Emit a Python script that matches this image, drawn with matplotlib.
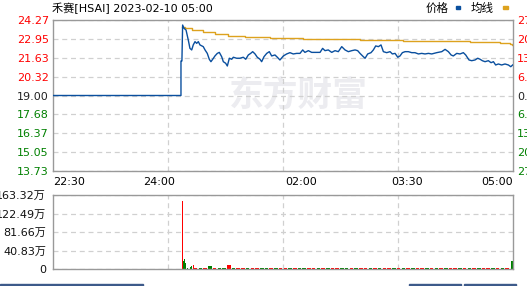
import matplotlib
matplotlib.use('Agg')
import matplotlib.pyplot as plt
from matplotlib.patches import Rectangle

plt.rcParams['font.family'] = ['DejaVu Sans', 'Noto Sans CJK SC']

title = '禾赛[HSAI] 2023-02-10 05:00'
prev_close = 19.00

# minutes since 22:30
price_t = [0, 108.5, 108.5, 109.3, 109.9, 111.1, 112.8, 114.7, 116.1, 117.6,
           118.9, 120.4, 121.8, 123.2, 124.6, 127.4, 128.9, 130.8, 132.5, 133.9,
           135.4, 137.3, 139.3, 141, 143, 144.4, 146.4, 147.8, 149.5, 151.5,
           152.9, 155.7, 158.5, 161.3, 163.4, 165.6, 167.6, 169.3, 171.3, 173.2,
           175.5, 176.9, 178.9, 181.2, 183.4, 185.4, 188.2, 190.2, 192.4, 195.3,
           198.1, 200.9, 203.7, 206.6, 209.4, 211.7, 213.6, 216.5, 219.3, 223.6,
           226.4, 228.6, 230.6, 233.4, 236.3, 239.1, 241.9, 244.8, 247.6, 250.4,
           253.3, 256.1, 258.3, 260.3, 263.1, 264.6, 266.8, 269.6, 271.6, 273.6,
           275.9, 278.1, 280.1, 282.9, 285.8, 287.7, 290, 292.3, 294.2, 296.2,
           298.5, 301.3, 304.1, 306.9, 309.8, 312.6, 315.4, 318.3, 321.1, 325.3,
           329.6, 332.4, 335.2, 337.5, 339.4, 342.3, 345.1, 347.9, 349.9, 352.7,
           355, 357.8, 360.1, 362.1, 364, 366.3, 369.1, 371.4, 373.4, 375.3,
           377.6, 380.4, 383.2, 386.1, 388.1, 389.7]
price = [19.00, 19.00, 21.41, 21.41, 23.92, 23.69, 23.57, 22.87, 22.29, 22.18,
         22.53, 22.76, 22.64, 22.76, 22.53, 22.41, 22.18, 21.94, 21.53, 21.36,
         21.53, 21.76, 21.94, 22.01, 21.71, 21.36, 21.25, 21.06, 21.60, 21.53,
         21.67, 21.60, 21.60, 21.67, 21.53, 21.83, 21.94, 22.06, 21.90, 21.67,
         21.53, 21.36, 21.71, 21.94, 22.06, 21.76, 21.83, 21.67, 21.48, 21.76,
         21.90, 21.99, 21.90, 21.94, 21.94, 22.18, 22.01, 22.13, 22.01, 22.01,
         22.01, 22.29, 22.13, 22.18, 22.01, 22.13, 22.06, 22.41, 22.18, 22.06,
         22.13, 22.18, 22.13, 21.94, 21.71, 21.60, 21.90, 21.99, 22.18, 22.46,
         22.41, 22.53, 22.06, 21.99, 22.06, 21.90, 21.94, 21.67, 21.76, 21.99,
         22.06, 22.06, 21.99, 21.99, 21.90, 21.94, 21.90, 21.94, 21.90, 21.99,
         22.06, 22.22, 22.06, 21.83, 21.76, 21.94, 21.90, 21.99, 21.83, 21.48,
         21.43, 21.48, 21.60, 21.53, 21.43, 21.36, 21.43, 21.29, 21.36, 21.13,
         21.20, 21.13, 21.20, 21.13, 21.01, 21.13]

avg_t = [109.5, 112, 117.6, 127.4, 137.3, 148.6, 162.8, 184, 212.2, 260.3, 297.1, 353.6,
         379, 387.5, 389, 390]
avg = [23.80, 23.69, 23.57, 23.41, 23.29, 23.15, 23.06, 22.99, 22.92, 22.87, 22.80, 22.71,
       22.64, 22.58, 22.52, 22.52]

# volume in 万
vol_t = [109.6, 110.5, 111.3, 112.2, 113.9, 115.3, 116.7, 117.5, 118.9,
         121, 125, 129, 133, 137, 141, 145, 149, 153, 157,
         161, 165, 169, 173, 177, 181, 185, 189, 193, 197,
         201, 205, 209, 213, 217, 221, 225, 229, 233, 237,
         241, 245, 249, 253, 257, 261, 265, 269, 273, 277,
         281, 285, 289, 293, 297, 301, 305, 309, 313, 317,
         321, 325, 329, 333, 337, 341, 345, 349, 353, 357,
         361, 365, 369, 373, 377, 381, 385, 389.5]
vol = [150, 18.3, 22, 12.6, 3, 3, 4.5, 6.6, 8.8,
       2.2, 2.2, 1.8, 6.6, 2.2, 2.2, 1.8, 8.8, 2.2, 2.2,
       2.2, 1.8, 2.2, 2.2, 2.2, 1.8, 2.2, 2.2, 2.2, 1.8,
       2.2, 2.2, 2.2, 1.8, 2.2, 2.2, 2.2, 2.2, 1.8, 2.2,
       2.2, 2.2, 2.2, 1.8, 2.2, 2.2, 2.2, 2.2, 1.8, 2.2,
       2.2, 2.2, 2.2, 1.8, 2.2, 2.2, 2.2, 2.2, 1.8, 2.2,
       2.2, 2.2, 2.2, 1.8, 2.2, 2.2, 2.2, 2.2, 1.8, 2.2,
       2.2, 2.2, 2.2, 1.8, 2.2, 2.2, 2.2, 17.7]
vol_side = ['r', 'g', 'g', 'g', 'g', 'g', 'g', 'g', 'r',
            'r', 'g', 'r', 'g', 'r', 'g', 'g', 'r', 'g', 'r',
            'r', 'g', 'r', 'r', 'g', 'g', 'r', 'g', 'r', 'r',
            'g', 'r', 'g', 'g', 'r', 'r', 'g', 'r', 'g', 'r',
            'r', 'g', 'g', 'r', 'g', 'r', 'r', 'g', 'r', 'g',
            'r', 'r', 'g', 'r', 'g', 'r', 'g', 'r', 'r', 'g',
            'r', 'g', 'r', 'g', 'r', 'r', 'g', 'r', 'g', 'r',
            'g', 'r', 'r', 'g', 'r', 'g', 'r', 'g']

time_ticks = [0, 90, 210, 300, 390]
time_labels = ['22:30', '24:00', '02:00', '03:30', '05:00']
price_ticks = [13.73, 15.05, 16.37, 17.68, 19.00, 20.32, 21.63, 22.95, 24.27]
pct_labels = ['27.74%', '20.79%', '13.84%', '6.95%', '0.00%', '6.95%', '13.84%', '20.79%', '27.74%']
vol_ticks = [0, 40.83, 81.66, 122.49, 163.32]
vol_labels = ['0', '40.83万', '81.66万', '122.49万', '163.32万']

RED = '#ff0000'
GREEN = '#008000'
BLUE = '#0a4f9e'
ORANGE = '#dda21e'
FRAME = '#999999'
GRID = '#d0d0d0'
W, H = 527, 286

fig = plt.figure(figsize=(W / 100, H / 100), dpi=100)
ax = fig.add_axes([53 / W, 1 - 171 / H, 460 / W, 151 / H])
axv = fig.add_axes([53 / W, 1 - 269 / H, 460 / W, 74 / H])

quarters = [97.5, 195, 292.5]

for a in (ax, axv):
    a.set_xlim(0, 390)
    for s in a.spines.values():
        s.set_color(FRAME)
        s.set_linewidth(1)
    a.set_xticks(quarters, minor=True)
    a.tick_params(which='both', length=0)
    a.grid(which='minor', axis='x', color=GRID, linestyle=(0, (4, 3)), linewidth=0.9)
    a.grid(which='major', axis='y', color=GRID, linestyle=(0, (4, 3)), linewidth=0.9)
    a.set_axisbelow(True)


def label_color(v):
    if v > prev_close + 0.001:
        return RED
    if v < prev_close - 0.001:
        return GREEN
    return '#222222'


# price panel
ax.text(0.533, 0.5, '东方财富', transform=ax.transAxes, ha='center', va='center',
        fontsize=25, fontweight='bold', color='#ececf0', family='Noto Sans CJK SC', zorder=0)
ax.plot(price_t, price, color=BLUE, linewidth=1.0, zorder=3)
ax.plot(avg_t, avg, color=ORANGE, linewidth=1.0, drawstyle='steps-post', zorder=2)
ax.set_ylim(price_ticks[0], price_ticks[-1])
ax.set_yticks(price_ticks)
ax.set_yticklabels(['%.2f' % v for v in price_ticks], fontsize=8)
ax.tick_params(axis='y', pad=3)
for lab, v in zip(ax.get_yticklabels(), price_ticks):
    lab.set_color(label_color(v))
ax.set_xticks(time_ticks)
ax.set_xticklabels(time_labels, fontsize=8)
ax.tick_params(axis='x', pad=4)
xl = ax.get_xticklabels()
xl[0].set_ha('left')
xl[-1].set_ha('right')
ax.grid(which='major', axis='x', visible=False)

axr = ax.twinx()
axr.set_ylim(price_ticks[0], price_ticks[-1])
axr.set_yticks(price_ticks)
axr.set_yticklabels(pct_labels, fontsize=8)
axr.tick_params(length=0, pad=3)
for s in axr.spines.values():
    s.set_visible(False)
for lab, v in zip(axr.get_yticklabels(), price_ticks):
    lab.set_color(label_color(v))

# volume panel
colors = [RED if s == 'r' else GREEN for s in vol_side]
widths = [0.8 if t < 120 else 3.0 for t in vol_t]
axv.bar(vol_t, vol, width=widths, color=colors, linewidth=0)
axv.set_ylim(0, vol_ticks[-1])
axv.set_yticks(vol_ticks)
axv.set_yticklabels(vol_labels, fontsize=8, color='#111111')
axv.tick_params(axis='y', pad=5)
axv.set_xticks([])

# header
fig.text(52 / W, 1 - 8 / H, title, fontsize=8, va='center', ha='left')
fig.text(426 / W, 1 - 8 / H, '价格', fontsize=8.3, va='center', ha='left', family='Noto Sans CJK SC')
fig.text(471 / W, 1 - 8 / H, '均线', fontsize=8.3, va='center', ha='left', family='Noto Sans CJK SC')
fig.patches.append(Rectangle((456 / W, 1 - 9 / H), 4 / W, 3 / H, transform=fig.transFigure,
                             color=BLUE, figure=fig))
fig.patches.append(Rectangle((503 / W, 1 - 9 / H), 5 / W, 3 / H, transform=fig.transFigure,
                             color=ORANGE, figure=fig))

# bottom toolbar edges
for x0, x1 in [(0, 143), (409, 461), (464, 516)]:
    fig.patches.append(Rectangle((x0 / W, 0), (x1 - x0) / W, 2 / H, transform=fig.transFigure,
                                 color='#3d5a8a', figure=fig))

fig.savefig('out.png', dpi=100)
